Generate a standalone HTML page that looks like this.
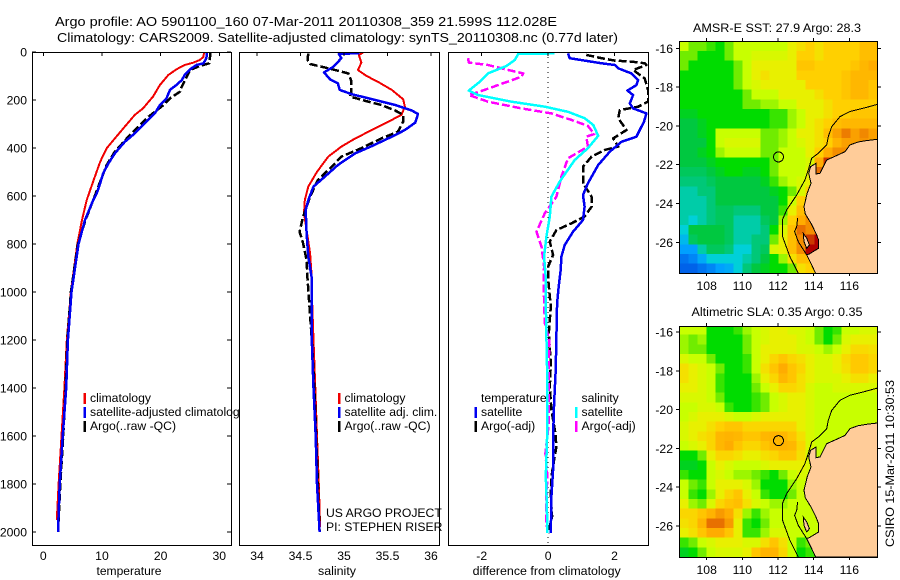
<!DOCTYPE html>
<html lang="en">
<head>
<meta charset="utf-8">
<title>Argo profile 5901100_160</title>
<style>
html,body{margin:0;padding:0;background:#fff;width:900px;height:580px;overflow:hidden}
svg{display:block}
text{font-family:"Liberation Sans",Arial,sans-serif;font-size:12.2px;fill:#000}
</style>
</head>
<body>
<svg id="figure" xmlns="http://www.w3.org/2000/svg" width="900" height="580" viewBox="0 0 900 580">
  <defs>
    <clipPath id="clip-temp"><rect x="32" y="52" width="199" height="493"/></clipPath>
    <clipPath id="clip-sal"><rect x="239" y="52" width="200" height="493"/></clipPath>
    <clipPath id="clip-diff"><rect x="448" y="52" width="200" height="493"/></clipPath>
    <clipPath id="clip-sst"><rect x="679" y="41" width="198" height="232"/></clipPath>
    <clipPath id="clip-sla"><rect x="679" y="326" width="198" height="231"/></clipPath>
  </defs>
  <rect width="900" height="580" fill="#fff"/>
  <text x="55" y="26" style="font-size:13px" textLength="502" lengthAdjust="spacingAndGlyphs">Argo profile: AO 5901100_160 07-Mar-2011 20110308_359 21.599S 112.028E</text>
  <text x="57" y="42" style="font-size:13px" textLength="561" lengthAdjust="spacingAndGlyphs">Climatology: CARS2009. Satellite-adjusted climatology: synTS_20110308.nc (0.77d later)</text>
  <g id="panel-temp"></g>
  <g id="panel-sal"></g>
  <g id="panel-diff"></g>
  <g id="map-sst"></g>
  <g id="map-sla"></g>
  <text x="0" y="0" text-anchor="middle" transform="translate(894 463.5) rotate(-90)" textLength="167" lengthAdjust="spacingAndGlyphs">CSIRO 15-Mar-2011 10:30:53</text>
</svg>
<script>
// ---------- tick labels ----------
const depthTicks = [0,200,400,600,800,1000,1200,1400,1600,1800,2000];
const tempTicks = [0,10,20,30];
const salTicks = [34,34.5,35,35.5,36];
const diffTicks = [-2,0,2];
const lonTicks = [108,110,112,114,116];
const latTicks = [-16,-18,-20,-22,-24,-26];

// ---------- temperature panel ----------
const tempClimDepth = [1,20,33,44,54,72,96,137,186,235,262,311,360,401,457,519,575,617,700,800,1000,1200,1400,1600,1800,1950];
const tempClimValue = [27.4,27.3,26.7,25.6,24.1,22.7,21.3,19.9,18.7,17,15.6,13.9,12.2,10.8,9.7,8.8,8,7.4,6.6,5.8,4.7,4.0,3.6,3.1,2.6,2.3];
const tempSatDepth = [1,26,47,54,72,96,117,137,158,193,221,256,290,339,374,422,464,506,547,589,617,700,800,1000,1200,1400,1600,1800,2000];
const tempSatValue = [27.9,27.8,27.3,26.1,25,24.1,23.6,22.7,21.6,21,19.9,19,17.6,15.6,13.9,12.2,11.1,10.2,9.7,9.1,8.5,7.1,6,4.8,4.2,3.9,3.3,2.8,2.5];
const tempArgoDepth = [1,26,47,58,75,144,165,193,221,249,276,304,353,415,471,540,617,700,800,1000,1200,1400,1600,1800,2000];
const tempArgoValue = [28.5,28.4,28.3,26.7,25,23.6,23.3,21.6,20.5,19,17.6,16.5,14.5,12.2,10.8,9.7,8.5,7.2,5.9,4.7,4.1,3.8,3.4,2.9,2.5];

// ---------- salinity panel ----------
const salClimDepth = [3,12,44,75,100,124,158,197,228,262,283,318,360,394,436,499,561,617,672,742,839,943,1000,1200,1400,1600,1800,1980];
const salClimValue = [35.22,35.17,35.20,35.16,35.26,35.39,35.55,35.68,35.70,35.66,35.55,35.36,35.13,34.97,34.82,34.69,34.59,34.55,34.54,34.57,34.61,34.63,34.63,34.65,34.67,34.69,34.71,34.725];
const salSatDepth = [4,6,8,26,61,85,114,131,158,176,200,221,244,258,294,325,353,392,422,471,519,561,617,658,756,853,943,1200,1400,1600,1800,2000];
const salSatValue = [35.18,35.1,34.94,34.97,34.88,34.77,34.84,34.93,34.95,35.09,35.36,35.59,35.78,35.85,35.82,35.70,35.55,35.32,35.13,34.93,34.78,34.65,34.59,34.56,34.57,34.59,34.63,34.63,34.65,34.675,34.69,34.72];
const salArgoDepth = [6,33,50,68,89,117,172,186,207,221,244,262,290,332,360,401,436,478,533,603,686,749,797,867,943,1200,1400,1600,1800,2000];
const salArgoValue = [34.59,34.58,34.61,34.82,35.05,35.08,35.08,35.07,35.28,35.43,35.59,35.68,35.68,35.62,35.43,35.20,34.97,34.86,34.70,34.61,34.53,34.49,34.53,34.57,34.58,34.63,34.66,34.68,34.70,34.72];

// ---------- difference panel ----------
const diffTempSatDepth = [6,26,36,47,54,68,89,117,138,161,179,214,235,256,290,353,374,415,471,547,596,644,700,749,804,853,908,977,1047,1186,1325,1464,1602,1741,1852,2005];
const diffTempSatValue = [0.60,0.65,1.10,1.61,2.01,2.11,2.51,2.71,2.66,2.39,2.56,2.46,2.56,2.96,2.89,2.66,2.21,1.86,1.51,1.20,1.05,1.10,1.05,0.75,0.50,0.40,0.38,0.32,0.27,0.25,0.23,0.18,0.15,0.15,0.10,0.08];
const diffTempArgoDepth = [12,26,36,40,47,54,75,110,158,207,228,242,276,325,360,394,408,436,478,547,603,644,686,714,742,790,846,894,943,1019,1060,1172,1297,1394,1491,1589,1644,1700,1769,1852,1936,2005];
const diffTempArgoValue = [1.15,1.61,2.01,2.51,2.91,2.96,2.56,2.91,3.01,3.01,2.71,2.16,2.11,2.36,1.96,2.11,1.71,1.31,1.05,1.05,1.31,1.31,1.10,0.70,0.25,0.05,0.15,0,0,0.05,0.08,0.02,0.08,0.05,0.10,0.22,0.25,0.18,0.10,0.08,0.12,0];
const diffSalSatDepth = [6,8,33,58,89,124,161,179,207,228,249,276,304,349,401,450,540,603,686,769,853,943,1047,1186,1325,1464,1602,1769,1880,2005];
const diffSalSatValue = [0.2,-0.90,-1.0,-1.25,-1.81,-2.06,-2.39,-2.11,-1.10,-0.1,0.6,1.10,1.36,1.51,1.20,0.80,0.35,0.10,0.05,-0.05,-0.12,-0.07,-0.07,-0.05,-0.03,-0.02,-0.03,-0.07,-0.04,-0.02];
const diffSalArgoDepth = [26,44,54,75,89,103,138,165,179,207,235,256,283,308,342,353,394,443,519,603,672,749,811,894,950,1130,1200,1394,1547,1672,1769,1880,1977];
const diffSalArgoValue = [-2.41,-2.39,-1.81,-1.20,-0.75,-0.80,-1.51,-2.06,-2.39,-1.81,-0.80,0.10,0.70,1.20,1.39,1.15,1.2,0.6,0.4,0.25,-0.1,-0.35,-0.2,-0.12,-0.14,-0.10,0.03,0.02,0.02,-0.08,-0.02,-0.06,-0.06];

// ---------- map grids (colour-scale level per cell, north to south, west to east) ----------
const sstLevels = [
[7,6,6,5.5,5,6,7,7,7,7,7,7,8,8.5,9,8.5,9,9,9,9,9.5,9.5],
[6,6,5,5,5,6,7,7,7.5,7.5,7.5,7.5,8,9,9,8.5,9,9,9,9,9.5,9.5],
[6,5,5,5,5,5,6,7,8,8,8,8,8,9.3,9.3,9,9,9,9,9.3,9.7,10],
[5,5,5,5,5,5,6,7,8,8.5,8,8,8,9,9,9,9,9,9.3,9.7,9.7,9.7],
[5,5,5,5,5,5,6,7,7.5,8,8,8,8,8,9,9,9,9,9.3,9.7,9.7,9.3],
[5,5,5,5,5,5,5,6,7,7,7,8,8,8,8,8.5,9,9,9.3,9.7,9.7,9.3],
[5,5,5,5,5,5,5,6,6,6.5,6.5,7,7,8,8,8,8.5,9,9,9,9,9],
[4.5,4.5,5,5,5,5,5,5,5,5,5.5,5.5,6.5,7,8,8,8.5,9,9,9.3,9.3,9.3],
[4,4,4.5,5,5,5,5,5,5,5,5.5,5.5,6.5,7,8,8.5,9,9.5,9.7,9.7,9.7,9.7],
[4,4,4.5,5,7,7,7,7,7,6,6,6.5,7,8,8,8.5,9.5,10.2,10.8,10.2,10.6,10.2],
[4,4,4,5,7,7.5,7.5,7.5,7.5,6,6,6.5,7,7.5,8,8.5,9,9.8,10.2,10.2,10.4,10.2],
[4,4,4.5,5,6.5,7,7,7,7,6,6,7,7,7,8,9,10,10.5,10.5,10,10,10],
[4,4,4,4.5,5,5,5,5,5,5,6,7,7,7,7.5,10,11.5,10,9,9,9,9],
[3.5,3.5,3.5,4,4.5,5,5,4.5,4.5,5,6,7,7,7,8,11],
[3,3,3,3.5,4,4,4,4,4,4.5,5.5,6.5,7,7.5,8],
[2.5,2.5,3,3,4,4,4,4,4,4,4.5,5,6,7.5,9],
[2.5,2.5,2.5,3,4,4,4,4,4,4,4,5,7,9,9.5,9.5],
[2.5,2.5,2.5,3,3.5,3.5,3,3,3,4,4,5.5,8,9.5,10,10],
[2.5,2,2.5,3,3.5,3.5,2.5,2.5,2.5,3.5,4,6.5,9,10,10.5,11],
[2,4,4,4,4,3.5,2.5,2.5,2.5,3,5,7.5,9.5,11,10.5,11,11],
[1.5,3.5,4,4,4,3.5,2.5,2.5,3,3,6,8,9.5,10.5,11.5,12,11.5,11],
[1,1,2.5,3.5,3.5,3,2,2,3,3.5,7.5,8,9.5,10.5,12,12,12,12],
[0.5,0.7,1.2,2,2,2,2,2.5,3,4,5,6.5,8.5,9.5,9.5,9.5,9.5,11],
[0.3,0.3,0.5,0.7,1,1.2,2,3,4,4.5,5,5,6,8.5,9,9,9]
];
const slaLevels = [
[7,7,7,5,5,5,5.5,6.5,7,7.5,8,8,7.5,7.5,7,6,5,5.5,7,7,7.5,7.5],
[6.5,6,6.5,5,5,5,5,6,7,7.5,8,8,8,7.5,7,6,5,6,7.5,8,8,8],
[6.5,6,6,5,5,5,5,6,7,8,8,8,8,7.5,7.5,7,6.5,7,8,8.7,8.7,8.5],
[7.5,7,7,6,5,5,5,5.5,7,8,8.8,9.3,8.8,8.5,8,7.5,7.5,8,8.7,9.2,9.2,8.8],
[8.5,8,7.5,7,6,5,5,5.5,7,8.5,9.3,10,9.3,8.8,8,7.5,7.5,8,8.5,9.2,9.2,8.8],
[8.5,8,7.5,7,5.5,5,5,5,6.5,8,8.8,9.7,9.3,8.5,8,7.5,7.5,7.5,8,8.5,8.5,8],
[8,8,7.5,7,5.5,5,5,5,6,7,8,8.8,8.8,8.5,7.5,7,7,7.5,7.5,7.5,7.5,7.5],
[7.5,7.5,7.5,7,6,5,5,5,5.5,6,7,7.5,8,8,7.5,7,7,7,7,7,7,7],
[7,7,7.5,7.5,7,5.5,5,5,5.5,6,7,7.5,8,8,7.5,7,7,7,7,7,7,7],
[7,7.5,8,8,8,7.5,7,7,7.5,8,8,8,8,8,7.5,7,7,7,7,7,7,7],
[7.5,8,8,8.5,9,9.3,9.3,8.8,8.8,8.8,8.8,8.8,8.8,8,7.5,7,7,7,7,7,7,7],
[7.5,8,8.5,8.8,9.7,9.8,9.7,9.3,9.3,9.7,9.8,9.7,9.3,8.5,7.5,7,7,7,7,7],
[7,7.5,8,8.8,9.7,10,9.3,8.8,8.8,9.3,9.7,9.8,9.7,8.8,7.5,7,7,7],
[5,5,6,8,8.8,8.8,8.5,8,8,8.5,8.8,9.3,9.3,8.5,7.5,7],
[4.5,4.5,5,7,8,7.5,7,7,7,7.5,8,8,8,8,7.5],
[5.5,5,5,7,7.5,7,6.5,6.5,6,5.5,5,6,7,7.5,7.5],
[7,6,5.5,7,8,8,8,7.5,6.5,5,5,5,6.5,7,7,7],
[7,5.5,5,6.5,8,8.8,9.3,8,7,5.5,5,5,6,7,7,7],
[8,6.5,6,7.5,8.8,9.3,9.5,8.5,7.5,7,6.5,6.5,7,7,7,7.5,7.5],
[8.8,8.8,9.3,9.8,10.3,10,8.5,6.5,5.5,6.5,7,7,7,7,7,7.5,7.5,7.5],
[8.5,8.8,9.8,11,11,10.3,8,5.5,5,6,7,7,7,7,7,7,7.5],
[8,8.5,9.3,10,10,9.3,8,5.5,5.5,6.5,7.5,7.5,7,7,7,7,7],
[5.5,6,7,7.5,8,8,8,7.5,7.5,8.5,9.3,8.5,7,5.5,6,7,7],
[4.5,5,6,7,7.5,7.5,7.5,8,9.3,9.8,9.8,8.8,7,5,5.5,7,7.5]
];
// ---------- coastline geography ----------
const landLon = [117.57,116.97,116.50,116.04,115.76,115.29,114.73,114.54,114.36,114.13,114.13,113.83,113.72,113.85,113.64,113.46,113.53,113.85,114.13,114.28,114.28,113.76,113.61,113.89,114.11,117.57];
const landLat = [-20.69,-20.76,-20.83,-20.98,-21.33,-21.53,-21.76,-22.10,-22.44,-22.48,-21.93,-22.10,-22.44,-22.96,-23.47,-24.16,-24.54,-25.02,-25.54,-25.88,-26.31,-26.60,-26.65,-27.17,-27.60,-27.60];
const shelfLon = [117.57,116.79,116.04,115.48,115.01,114.82,114.73,114.26,113.89,113.70,113.51,113.05,112.49,112.24,112.26,112.67,113.14];
const shelfLat = [-18.89,-19.09,-19.26,-19.52,-20.04,-20.55,-20.98,-21.41,-21.67,-22.27,-22.79,-23.56,-24.33,-24.85,-25.71,-26.74,-27.60];
const islandLon = [113.10,113.05,112.93,113.14,113.61];
const islandLat = [-24.76,-25.19,-25.45,-25.97,-26.65];
const peninsulaLon = [113.42,113.61,113.76,113.61,113.46];
const peninsulaLat = [-25.54,-25.79,-26.14,-26.31,-25.97];
const floatLon = 112.028;
const floatLat = -21.6;

// ---------- colour scale anchors ----------
const levelColors = ['#0048e0','#00a0ff','#00d0d8','#00c878','#00c840','#00dc00','#70ec00','#c8ff00','#e8f000','#ffd000','#ffac00','#e87000','#b00000'];

const SVGNS = 'http://www.w3.org/2000/svg';
function svgEl(tag, attrs, parent) {
  const el = document.createElementNS(SVGNS, tag);
  for (const k in attrs) el.setAttribute(k, attrs[k]);
  parent.appendChild(el);
  return el;
}
function linear(d0, d1, r0, r1) {
  return function (v) { return r0 + (v - d0) * (r1 - r0) / (d1 - d0); };
}
function hexToRgb(h) {
  return [parseInt(h.slice(1,3),16), parseInt(h.slice(3,5),16), parseInt(h.slice(5,7),16)];
}
function levelColor(v) {
  const t = Math.max(0, Math.min(levelColors.length - 1, v));
  const i = Math.min(levelColors.length - 2, Math.floor(t));
  const a = hexToRgb(levelColors[i]);
  const b = hexToRgb(levelColors[i + 1]);
  const f = t - i;
  return 'rgb(' + a.map(function (c, n) { return Math.round(c + (b[n] - c) * f); }).join(',') + ')';
}

const depthY = linear(0, 2000, 52, 532);

function drawPanel(parent, cfg) {
  const bg = svgEl('rect', {x: cfg.left + 0.5, y: 52.5, width: cfg.right - cfg.left, height: 493, fill: '#fff', stroke: 'none'}, parent);
  
  

  const lines = svgEl('g', {'clip-path': 'url(#' + cfg.clip + ')'}, parent);
  
  

  if (cfg.zero !== undefined) {
    const z = svgEl('line', {x1: cfg.x(0), x2: cfg.x(0), y1: 52, y2: 545, stroke: '#000', 'stroke-width': 1, 'stroke-dasharray': '1 4', 'shape-rendering': 'crispEdges'}, lines);
    
    
  }

  cfg.series.forEach(function (s) {
    const pts = s.depth.map(function (d, i) { return cfg.x(s.value[i]).toFixed(1) + ',' + depthY(d).toFixed(1); }).join(' ');
    const pl = svgEl('polyline', {points: pts, fill: 'none', stroke: s.color, 'stroke-width': s.width || 2, 'stroke-linejoin': 'round', 'shape-rendering': 'crispEdges'}, lines);
    if (s.dash) pl.setAttribute('stroke-dasharray', s.dash);
    
    
  });

  const frame = svgEl('rect', {x: cfg.left + 0.5, y: 52.5, width: cfg.right - cfg.left, height: 493, fill: 'none', stroke: '#000', 'stroke-width': 1, 'shape-rendering': 'crispEdges'}, parent);
  
  

  cfg.ticks.forEach(function (t) {
    const px = cfg.x(t);
    const tk = svgEl('line', {x1: px, x2: px, y1: 52, y2: 56, stroke: '#000', 'stroke-width': 1, 'shape-rendering': 'crispEdges'}, parent);
    
    
    const lb = svgEl('text', {x: px, y: 560, 'text-anchor': 'middle'}, parent);
    lb.textContent = String(t);
    
    
  });

  const title = svgEl('text', {x: cfg.labelX, y: 575, 'text-anchor': 'middle', textLength: cfg.labelLength, lengthAdjust: 'spacingAndGlyphs'}, parent);
  title.textContent = cfg.xlabel;
  
  

  cfg.legend.forEach(function (e) {
    if (e.color) {
      const sw = svgEl('rect', {x: e.x - 6.5, y: e.y - 9, width: 2.5, height: 11, fill: e.color, 'shape-rendering': 'crispEdges'}, parent);
      
      
    }
    const tx = svgEl('text', {x: e.x, y: e.y}, parent);
    tx.textContent = e.text;
    
    
  });
}

// temperature
const tempX = linear(0, 30, 43.3, 219.3);
const panelTemp = document.getElementById('panel-temp');
drawPanel(panelTemp, {
  name: 'temperature', left: 32, right: 231, clip: 'clip-temp', x: tempX, ticks: tempTicks,
  xlabel: 'temperature', labelX: 129, labelLength: 65,
  series: [
    {name: 'temperature-climatology-line', depth: tempClimDepth, value: tempClimValue, color: '#f00000'},
    {name: 'temperature-argo-line', depth: tempArgoDepth, value: tempArgoValue, color: '#000', dash: '8 3', width: 2.5},
    {name: 'temperature-satellite-line', depth: tempSatDepth, value: tempSatValue, color: '#0000f0', width: 2.5}
  ],
  legend: [
    {x: 90, y: 402, text: 'climatology', color: '#f00000'},
    {x: 90, y: 416, text: 'satellite-adjusted climatology', color: '#0000f0'},
    {x: 90, y: 430, text: 'Argo(..raw -QC)', color: '#000'}
  ]
});
depthTicks.forEach(function (d) {
  const py = depthY(d);
  const l = svgEl('line', {x1: 32, x2: 36, y1: py, y2: py, stroke: '#000', 'shape-rendering': 'crispEdges'}, panelTemp);
  
  
  const r = svgEl('line', {x1: 227, x2: 231, y1: py, y2: py, stroke: '#000', 'shape-rendering': 'crispEdges'}, panelTemp);
  
  
  const t = svgEl('text', {x: 27, y: py + 4.5, 'text-anchor': 'end'}, panelTemp);
  t.textContent = String(d);
  
  
});

// salinity
drawPanel(document.getElementById('panel-sal'), {
  name: 'salinity', left: 239, right: 439, clip: 'clip-sal', x: linear(34, 36, 257, 431), ticks: salTicks,
  xlabel: 'salinity', labelX: 337, labelLength: 38,
  series: [
    {name: 'salinity-climatology-line', depth: salClimDepth, value: salClimValue, color: '#f00000'},
    {name: 'salinity-argo-line', depth: salArgoDepth, value: salArgoValue, color: '#000', dash: '8 3', width: 2.5},
    {name: 'salinity-satellite-line', depth: salSatDepth, value: salSatValue, color: '#0000f0', width: 2.5}
  ],
  legend: [
    {x: 344.5, y: 402, text: 'climatology', color: '#f00000'},
    {x: 344.5, y: 416, text: 'satellite adj. clim.', color: '#0000f0'},
    {x: 344.5, y: 430, text: 'Argo(..raw -QC)', color: '#000'},
    {x: 326, y: 517, text: 'US ARGO PROJECT'},
    {x: 326, y: 531, text: 'PI: STEPHEN RISER'}
  ]
});

// difference
drawPanel(document.getElementById('panel-diff'), {
  name: 'difference', left: 448, right: 648, clip: 'clip-diff', x: linear(-2, 2, 481.7, 614.5), ticks: diffTicks,
  xlabel: 'difference from climatology', labelX: 546.7, labelLength: 148, zero: 0,
  series: [
    {name: 'difference-temperature-argo-line', depth: diffTempArgoDepth, value: diffTempArgoValue, color: '#000', dash: '8 3', width: 2.5},
    {name: 'difference-temperature-satellite-line', depth: diffTempSatDepth, value: diffTempSatValue, color: '#0000f0', width: 2.5},
    {name: 'difference-salinity-argo-line', depth: diffSalArgoDepth, value: diffSalArgoValue, color: '#ff00ff', dash: '8 3', width: 2.5},
    {name: 'difference-salinity-satellite-line', depth: diffSalSatDepth, value: diffSalSatValue, color: '#00ffff', width: 2.5}
  ],
  legend: [
    {x: 481, y: 402, text: 'temperature'},
    {x: 481, y: 416, text: 'satellite', color: '#0000f0'},
    {x: 481, y: 430, text: 'Argo(-adj)', color: '#000'},
    {x: 581.5, y: 402, text: 'salinity'},
    {x: 581.5, y: 416, text: 'satellite', color: '#00ffff'},
    {x: 581.5, y: 430, text: 'Argo(-adj)', color: '#ff00ff'}
  ]
});

// maps
function drawMap(parent, cfg) {
  const lonX = linear(108, 116, 706.7, 849.3);
  const latY = linear(-16, -26, cfg.y16, cfg.y16 + 194);
  const west = 106.46, east = 117.57, north = -15.64, south = -27.6;
  const dLon = (east - west) / 22, dLat = (north - south) / 24;
  const clipped = svgEl('g', {'clip-path': 'url(#' + cfg.clip + ')'}, parent);
  
  

  cfg.levels.forEach(function (row, i) {
    row.forEach(function (v, j) {
      const x0 = lonX(west + j * dLon), y0 = latY(north - i * dLat);
      const c = svgEl('rect', {x: x0, y: y0, width: lonX(west + (j + 1) * dLon) - x0 + 0.6, height: latY(north - (i + 1) * dLat) - y0 + 0.6, fill: levelColor(v), 'shape-rendering': 'crispEdges'}, clipped);
      
      
    });
  });

  function pts(lons, lats) {
    return lons.map(function (lo, i) { return lonX(lo).toFixed(1) + ',' + latY(lats[i]).toFixed(1); }).join(' ');
  }
  const land = svgEl('polygon', {points: pts(landLon, landLat), fill: '#ffcc99', stroke: '#000', 'stroke-width': 1, 'shape-rendering': 'crispEdges'}, clipped);
  
  
  const shelf = svgEl('polyline', {points: pts(shelfLon, shelfLat), fill: 'none', stroke: '#000', 'stroke-width': 1, 'shape-rendering': 'crispEdges'}, clipped);
  
  
  const island = svgEl('polyline', {points: pts(islandLon, islandLat), fill: 'none', stroke: '#000', 'stroke-width': 1, 'shape-rendering': 'crispEdges'}, clipped);
  
  
  const pen = svgEl('polygon', {points: pts(peninsulaLon, peninsulaLat), fill: '#ffcc99', stroke: '#000', 'stroke-width': 1, 'shape-rendering': 'crispEdges'}, clipped);
  
  
  const marker = svgEl('circle', {cx: lonX(floatLon), cy: latY(floatLat), r: 5, fill: 'none', stroke: '#000', 'stroke-width': 1, 'shape-rendering': 'crispEdges'}, clipped);
  
  

  const frame = svgEl('rect', {x: 679.5, y: cfg.top + 0.5, width: 198, height: cfg.bottom - cfg.top, fill: 'none', stroke: '#000', 'stroke-width': 1, 'shape-rendering': 'crispEdges'}, parent);
  
  

  lonTicks.forEach(function (lo) {
    const px = lonX(lo);
    const a = svgEl('line', {x1: px, x2: px, y1: cfg.top - 3, y2: cfg.top, stroke: '#000', 'shape-rendering': 'crispEdges'}, parent);
    
    
    const b = svgEl('line', {x1: px, x2: px, y1: cfg.bottom, y2: cfg.bottom + 3, stroke: '#000', 'shape-rendering': 'crispEdges'}, parent);
    
    
    const t = svgEl('text', {x: px, y: cfg.bottom + 17, 'text-anchor': 'middle'}, parent);
    t.textContent = String(lo);
    
    
  });
  latTicks.forEach(function (la) {
    const py = latY(la);
    const a = svgEl('line', {x1: 676, x2: 679, y1: py, y2: py, stroke: '#000', 'shape-rendering': 'crispEdges'}, parent);
    
    
    const b = svgEl('line', {x1: 878, x2: 881, y1: py, y2: py, stroke: '#000', 'shape-rendering': 'crispEdges'}, parent);
    
    
    const t = svgEl('text', {x: 673, y: py + 4.5, 'text-anchor': 'end'}, parent);
    t.textContent = String(la);
    
    
  });
  const title = svgEl('text', {x: 777, y: cfg.titleY, 'text-anchor': 'middle', textLength: cfg.titleLength, lengthAdjust: 'spacingAndGlyphs'}, parent);
  title.textContent = cfg.title;
  
  
}
drawMap(document.getElementById('map-sst'), {
  name: 'sst-map', clip: 'clip-sst', levels: sstLevels, y16: 48.3, top: 41, bottom: 273,
  titleY: 32, titleLength: 168, title: 'AMSR-E SST: 27.9 Argo: 28.3'
});
drawMap(document.getElementById('map-sla'), {
  name: 'sla-map', clip: 'clip-sla', levels: slaLevels, y16: 332, top: 326, bottom: 557,
  titleY: 316, titleLength: 171, title: 'Altimetric SLA: 0.35 Argo: 0.35'
});
</script>
</body>
</html>
